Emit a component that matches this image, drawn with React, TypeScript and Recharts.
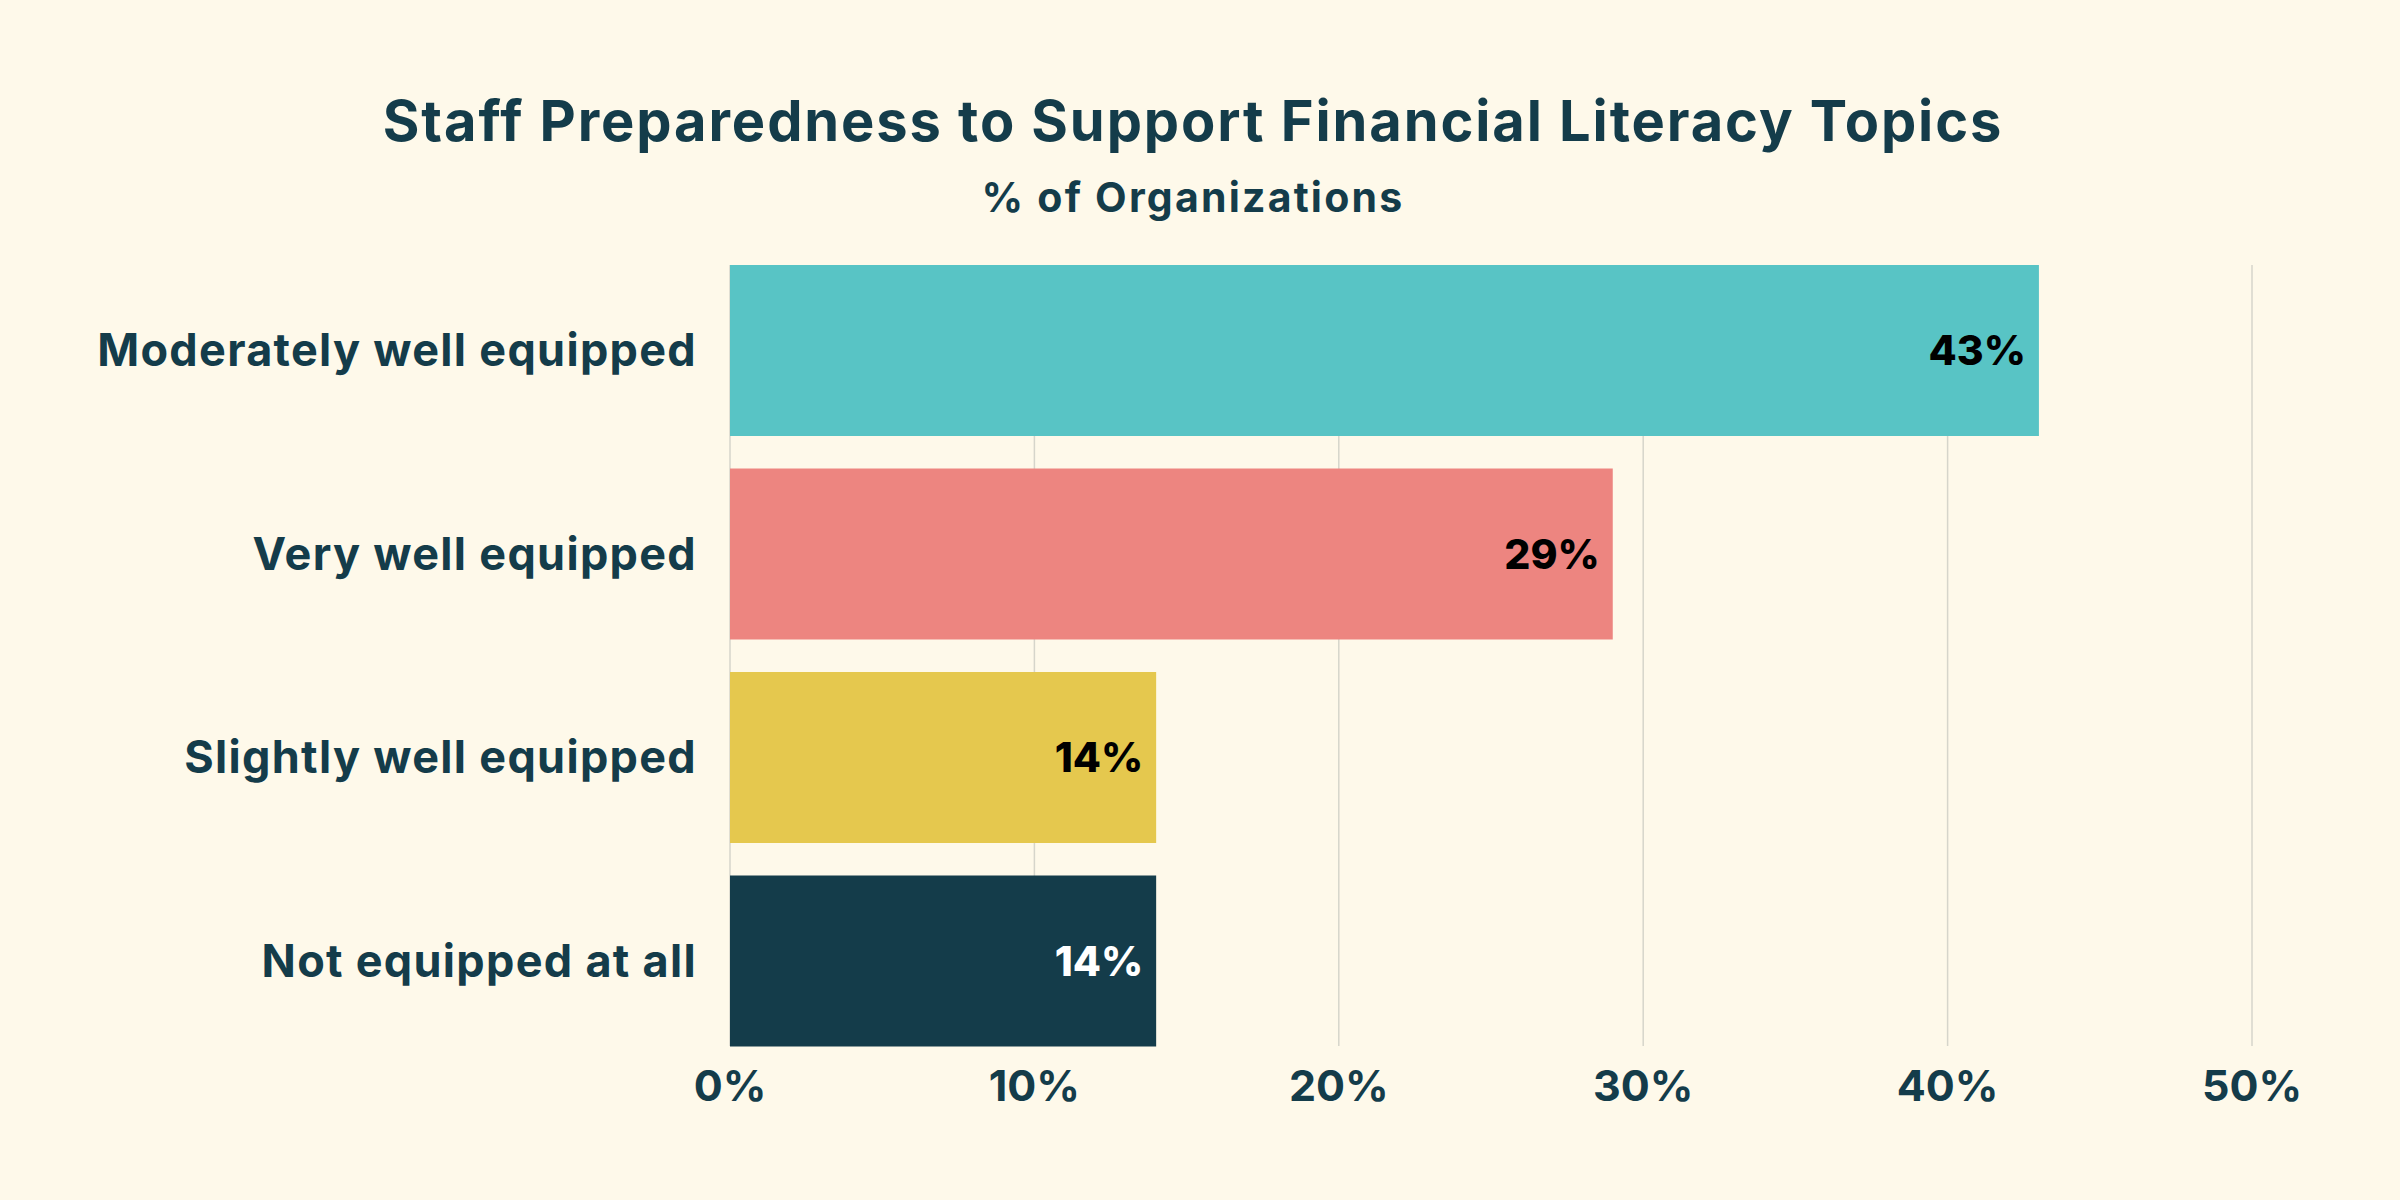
import React from 'react';
import { BarChart, Bar, XAxis, YAxis, CartesianGrid, Cell } from 'recharts';

const categories = ['Moderately well equipped', 'Very well equipped', 'Slightly well equipped', 'Not equipped at all'];
const shares = [43, 29, 14, 14];
const xTicks = [0, 10, 20, 30, 40, 50];

const barColors = ['#58c4c5', '#ed8580', '#e5c84e', '#143c4a'];
const labelColors = ['#000000', '#000000', '#000000', '#ffffff'];

const TEXT = '#143c4a';
const BG = '#fef9ea';
const FONT = 'Inter, "Noto Sans", sans-serif';

const data = categories.map((name, i) => ({ name, value: shares[i] }));

const renderValueLabel = (props: any) => {
  const { x, y, width, height, index, value } = props;
  return (
    <text
      x={x + width - 13}
      y={y + height / 2}
      dy="0.36em"
      textAnchor="end"
      fill={labelColors[index]}
      fontFamily={FONT}
      fontSize={41}
      fontWeight={800}
    >
      {`${value}%`}
    </text>
  );
};

export default function App() {
  return (
    <div style={{ position: 'relative', width: 2400, height: 1200, background: BG }}>
      <style>{'body{margin:0}'}</style>
      <BarChart
        width={2400}
        height={1200}
        data={data}
        layout="vertical"
        barCategoryGap="8.1%"
        margin={{ top: 248.5, right: 148, bottom: 0, left: 0 }}
      >
        <CartesianGrid horizontal={false} stroke="#d6d5cb" strokeWidth={1.5} y={265} height={781} />
        <XAxis
          type="number"
          domain={[0, 50]}
          ticks={xTicks}
          tickFormatter={(v) => `${v}%`}
          axisLine={false}
          tickLine={false}
          tickSize={0}
          tickMargin={8}
          height={137.5}
          tick={{ fill: TEXT, fontSize: 43, fontWeight: 700, fontFamily: FONT }}
        />
        <YAxis
          type="category"
          dataKey="name"
          width={730}
          axisLine={false}
          tickLine={false}
          tickSize={0}
          tickMargin={33}
          tick={{ fill: TEXT, fontSize: 45, fontWeight: 700, fontFamily: FONT, letterSpacing: 1.3 }}
        />
        <Bar dataKey="value" isAnimationActive={false} label={renderValueLabel}>
          {data.map((d, i) => (
            <Cell key={d.name} fill={barColors[i]} />
          ))}
        </Bar>
      </BarChart>
      <svg
        width={2400}
        height={248}
        style={{ position: 'absolute', left: 0, top: 0, pointerEvents: 'none' }}
      >
        <text x={1193} y={141} textAnchor="middle" fill={TEXT} fontFamily={FONT} fontSize={56} fontWeight={700} letterSpacing={1.9}>
          Staff Preparedness to Support Financial Literacy Topics
        </text>
        <text x={1193} y={212} textAnchor="middle" fill={TEXT} fontFamily={FONT} fontSize={41} fontWeight={700} letterSpacing={2.2}>
          % of Organizations
        </text>
      </svg>
    </div>
  );
}
